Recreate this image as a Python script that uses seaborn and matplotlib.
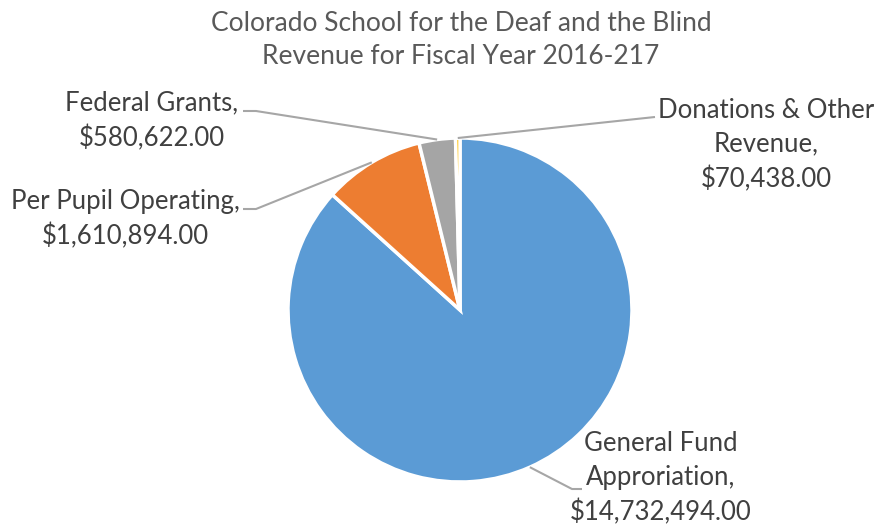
import numpy as np
import matplotlib
matplotlib.use("Agg")
import matplotlib.pyplot as plt
import seaborn as sns

# ---------------------------------------------------------
# Data
# ---------------------------------------------------------
categories = ["General Fund\nApproriation,", "Per Pupil Operating,",
              "Federal Grants,", "Donations & Other\nRevenue,"]
amounts = [14732494.00, 1610894.00, 580622.00, 70438.00]
colors = ["#5B9BD5", "#ED7D31", "#A5A5A5", "#FFC000"]

sns.set_theme(style="white")
plt.rcParams["font.family"] = ["Lato", "DejaVu Sans"]

W, H = 875, 527
fig = plt.figure(figsize=(W / 100, H / 100), dpi=100)
ax = fig.add_axes([0, 0, 1, 1])

cx, cy, r = 460, H - 310, 172
wedges, _ = ax.pie(amounts, colors=colors, startangle=90, counterclock=False,
                   center=(cx, cy), radius=r, frame=True,
                   wedgeprops={"edgecolor": "white", "linewidth": 2.5})
ax.set_xlim(0, W)
ax.set_ylim(0, H)
ax.set_aspect("equal")
ax.axis("off")

# label text centre, elbow points (pixel coords from top) per slice
label_pos = [(661, 478), (125, 219), (152, 121), (766, 145)]
elbows = [[(572, 489), (582, 489)],
          [(256, 209), (243, 209)],
          [(256, 111), (243, 111)],
          [(655, 117)]]

for w, cat, amt, (tx, ty), elb in zip(wedges, categories, amounts, label_pos, elbows):
    mid = np.deg2rad((w.theta1 + w.theta2) / 2)
    sx, sy = cx + r * np.cos(mid), cy + r * np.sin(mid)
    xs = [sx] + [p[0] for p in elb]
    ys = [sy] + [H - p[1] for p in elb]
    ax.plot(xs, ys, color="#A6A6A6", lw=1.5, solid_capstyle="butt")
    ax.text(tx, H - ty, f"{cat}\n${amt:,.2f}", ha="center", va="center",
            fontsize=18.5, color="#404040", linespacing=1.44)

ax.text(461, H - 40, "Colorado School for the Deaf and the Blind\nRevenue for Fiscal Year 2016-217",
        ha="center", va="center", fontsize=19, color="#595959", linespacing=1.38)

fig.savefig("out.png", dpi=100)
